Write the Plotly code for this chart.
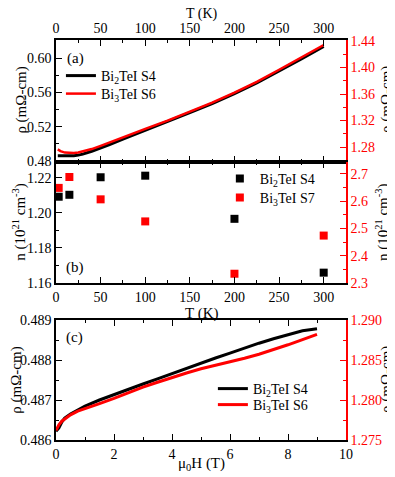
import plotly.graph_objects as go

# (a) resistivity vs temperature
T_a = [2, 5, 10, 15, 20, 25, 30, 40, 50, 60, 75, 100, 125, 150, 175, 200, 225, 250, 275, 300]
rho_s4 = [0.4862, 0.4861, 0.4860, 0.4861, 0.4864, 0.4870, 0.4882, 0.4915, 0.4952, 0.4993, 0.5056,
          0.5156, 0.5260, 0.5365, 0.5470, 0.5585, 0.5710, 0.5848, 0.5990, 0.6135]
rho_s6 = [1.2765, 1.2740, 1.2717, 1.2709, 1.2711, 1.2718, 1.2732, 1.2770, 1.2818, 1.2870, 1.2953,
          1.3074, 1.3200, 1.3335, 1.3470, 1.3620, 1.3785, 1.3966, 1.4150, 1.4340]

# (b) carrier density
T_b = [3, 15, 50, 100, 200, 300]
n_s4 = [1.2092, 1.2103, 1.2203, 1.2212, 1.1966, 1.1659]
n_s7 = [2.649, 2.689, 2.607, 2.526, 2.334, 2.474]

# (c) magnetoresistance
H = [0, 0.1, 0.2, 0.3, 0.5, 0.75, 1, 1.5, 2, 2.5, 3, 3.5, 4, 4.5, 5, 5.5, 6, 6.5, 7, 7.5, 8, 8.5, 9]
mr_s4 = [0.48622, 0.48630, 0.48645, 0.48655, 0.48665, 0.48675, 0.48685, 0.48700, 0.48714, 0.48727,
         0.48740, 0.48753, 0.48766, 0.48780, 0.48793, 0.48805, 0.48817, 0.48830, 0.48842, 0.48853,
         0.48863, 0.48873, 0.48878]
mr_s6 = [1.27620, 1.27690, 1.27735, 1.27765, 1.27815, 1.27860, 1.27895, 1.27955, 1.28020, 1.28092,
         1.28160, 1.28222, 1.28282, 1.28338, 1.28390, 1.28432, 1.28475, 1.28522, 1.28572, 1.28628,
         1.28690, 1.28755, 1.28820]

RED = "#ff0000"
FONT = "Liberation Serif, Times New Roman, Times, serif"

fig = go.Figure()
fig.add_trace(go.Scatter(x=T_a, y=rho_s4, mode="lines", line=dict(color="black", width=3),
                         name="Bi<sub>2</sub>TeI S4", xaxis="x", yaxis="y", legend="legend"))
fig.add_trace(go.Scatter(x=T_a, y=rho_s6, mode="lines", line=dict(color=RED, width=2.5),
                         name="Bi<sub>3</sub>TeI S6", xaxis="x", yaxis="y2", legend="legend2"))
fig.add_trace(go.Scatter(x=T_b, y=n_s4, mode="markers", marker=dict(color="black", symbol="square", size=8),
                         name="Bi<sub>2</sub>TeI S4", xaxis="x2", yaxis="y3", legend="legend3"))
fig.add_trace(go.Scatter(x=T_b, y=n_s7, mode="markers", marker=dict(color=RED, symbol="square", size=8),
                         name="Bi<sub>3</sub>TeI S7", xaxis="x2", yaxis="y4", legend="legend4"))
fig.add_trace(go.Scatter(x=H, y=mr_s4, mode="lines", line=dict(color="black", width=3),
                         name="Bi<sub>2</sub>TeI S4", xaxis="x3", yaxis="y5", legend="legend5"))
fig.add_trace(go.Scatter(x=H, y=mr_s6, mode="lines", line=dict(color=RED, width=3),
                         name="Bi<sub>3</sub>TeI S6", xaxis="x3", yaxis="y6", legend="legend6"))

common = dict(showline=True, linewidth=1.5, ticks="inside", ticklen=6, tickwidth=1.2,
              showgrid=False, zeroline=False)
left = dict(common, linecolor="black", tickcolor="black",
            tickfont=dict(family=FONT, size=14, color="black"))
right = dict(common, linecolor=RED, tickcolor=RED, side="right",
             tickfont=dict(family=FONT, size=14, color=RED))
xcommon = dict(common, linecolor="black", tickcolor="black", mirror="ticks",
               tickfont=dict(family=FONT, size=14, color="black"))
leg = dict(xanchor="left", yanchor="middle", bgcolor="rgba(0,0,0,0)",
           font=dict(family=FONT, size=14), itemwidth=30, tracegroupgap=0)

# page body has an 8px margin, so the figure is shrunk by that amount
fig.update_layout(
    width=387, height=469,
    margin=dict(l=44, r=49, t=32, b=37),
    plot_bgcolor="white", paper_bgcolor="white",
    font=dict(family=FONT, size=14, color="black"),
    xaxis=dict(xcommon, domain=[0, 1], anchor="y", side="top", range=[0, 325], dtick=50,
               minor=dict(dtick=25, ticks="inside", ticklen=3, tickcolor="black")),
    yaxis=dict(left, domain=[0.695, 1], range=[0.479, 0.621], tick0=0.48, dtick=0.04, tickformat=".2f",
               minor=dict(dtick=0.02, ticks="inside", ticklen=3, tickcolor="black")),
    yaxis2=dict(right, overlaying="y", anchor="x", range=[1.2575, 1.4415], tick0=1.28, dtick=0.04,
                tickformat=".2f", minor=dict(dtick=0.02, ticks="inside", ticklen=3, tickcolor=RED)),
    xaxis2=dict(xcommon, domain=[0, 1], anchor="y3", range=[0, 325], dtick=50,
                minor=dict(dtick=25, ticks="inside", ticklen=3, tickcolor="black")),
    yaxis3=dict(left, domain=[0.3925, 0.695], range=[1.16, 1.229], tick0=1.16, dtick=0.02, tickformat=".2f",
                minor=dict(dtick=0.01, ticks="inside", ticklen=3, tickcolor="black")),
    yaxis4=dict(right, overlaying="y3", anchor="x2", range=[2.3, 2.744], tick0=2.3, dtick=0.1,
                tickformat=".1f", minor=dict(dtick=0.05, ticks="inside", ticklen=3, tickcolor=RED)),
    xaxis3=dict(xcommon, domain=[0, 1], anchor="y5", range=[0, 10], dtick=2,
                minor=dict(dtick=1, ticks="inside", ticklen=3, tickcolor="black")),
    yaxis5=dict(left, domain=[0, 0.3], range=[0.486, 0.489], tick0=0.486, dtick=0.001, tickformat=".3f",
                minor=dict(dtick=0.0005, ticks="inside", ticklen=3, tickcolor="black")),
    yaxis6=dict(right, overlaying="y5", anchor="x3", range=[1.275, 1.290], tick0=1.275, dtick=0.005,
                tickformat=".3f", minor=dict(dtick=0.0025, ticks="inside", ticklen=3, tickcolor=RED)),
    legend=dict(leg, x=0.017, y=0.91),
    legend2=dict(leg, x=0.017, y=0.865),
    legend3=dict(leg, x=0.565, y=0.6525),
    legend4=dict(leg, x=0.565, y=0.605),
    legend5=dict(leg, x=0.541, y=0.1275),
    legend6=dict(leg, x=0.541, y=0.0875),
    showlegend=True,
)

ann = [
    dict(text="T (K)", x=0.505, y=1.066, font=dict(family=FONT, size=14, color="black")),
    dict(text="T (K)", x=0.5, y=0.3175),
    dict(text="\u03bc<sub>0</sub>H (T)", x=0.5, y=-0.06),
    dict(text="\u03c1 (m\u03a9-cm)", x=-0.122, y=0.85, textangle=-90),
    dict(text="n (10<sup>21</sup> cm<sup>-3</sup>)", x=-0.125, y=0.545, textangle=-90),
    dict(text="\u03c1 (m\u03a9-cm)", x=-0.139, y=0.15, textangle=-90),
    dict(text="\u03c1 (m\u03a9-cm)", x=1.138, y=0.85, textangle=-90),
    dict(text="n (10<sup>21</sup> cm<sup>-3</sup>)", x=1.128, y=0.545, textangle=-90),
    dict(text="\u03c1 (m\u03a9-cm)", x=1.138, y=0.15, textangle=-90),
    dict(text="(a)", x=0.068, y=0.955),
    dict(text="(b)", x=0.065, y=0.432),
    dict(text="(c)", x=0.065, y=0.257),
]
for a in ann:
    a.setdefault("font", dict(family=FONT, size=15, color="black"))
    fig.add_annotation(xref="paper", yref="paper", showarrow=False, xanchor="center", yanchor="middle", **a)

fig.write_html("out.html")
